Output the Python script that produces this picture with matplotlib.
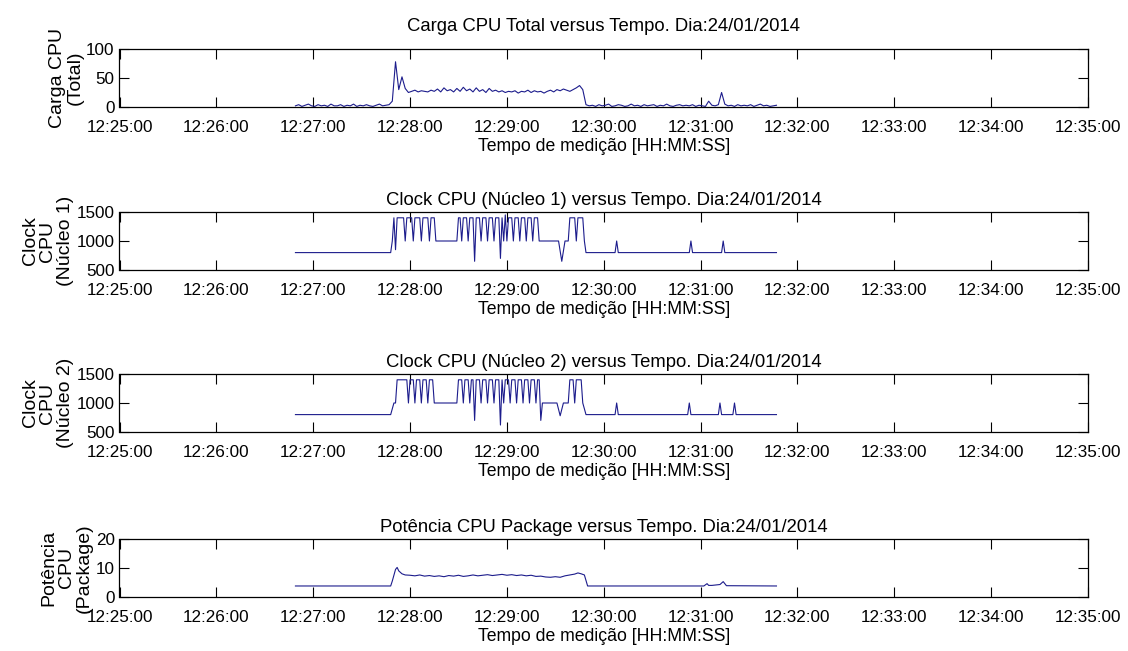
import numpy as np
import pandas as pd
import matplotlib
matplotlib.use("Agg")
import matplotlib.pyplot as plt
import matplotlib.dates as mdates

# ---------------- data (seconds after 12:25:00 on 24/01/2014) ----------------
DAY = "2014-01-24 12:25:00"

# CPU load (total) sampled every 2 s from 12:26:49 to 12:31:47
load_t = np.arange(109, 408, 2)
load_v = [2, 4, 1, 3, 5, 2, 1, 4, 2, 3, 1, 5, 2, 2, 4, 1, 3, 2, 5, 1,
          3, 2, 4, 2, 1, 3, 5, 2, 3, 4,
          10, 78, 30, 52, 32, 25,
          27, 29, 26, 28, 27, 26, 29, 27, 31, 26,
          33, 28, 30, 26, 32, 27, 34, 28, 31, 26,
          33, 27, 30, 25, 32, 27, 29, 26, 28, 25,
          27, 26, 28, 24, 27, 26, 29, 25, 28, 26,
          27, 24, 27, 29, 26, 30, 28, 31, 29, 27,
          30, 33,
          37, 30, 4,
          2, 3, 1, 4, 2, 3, 5, 1, 2, 4,
          3, 1, 2, 5, 2, 3, 1, 4, 2, 3,
          4, 1, 3, 2, 5, 2, 1, 3, 4, 2,
          3, 2, 4, 1, 3, 2, 1, 10, 3, 2,
          4, 25, 5, 2, 3, 1, 4, 2, 3, 2,
          4, 1, 3, 5, 2, 3, 1, 2, 3]

# CPU clock, core 1 (breakpoints)
core1_t = [109, 168, 169, 170, 171, 172, 176, 177, 178, 181, 182, 183, 186, 187, 188,
           191, 192, 193, 195, 196, 209, 210, 211, 212, 213, 215, 216, 217, 219, 220,
           221, 223, 224, 225, 227, 228, 229, 231, 232, 233, 235, 236, 237, 238, 239,
           240, 241, 243, 244, 245, 247, 248, 249, 251, 252, 253, 255, 256, 257, 259,
           260, 272, 274, 276, 278, 279, 282, 283, 284, 287, 288, 289, 307, 308, 309,
           353, 354, 355, 373, 374, 375, 407]
core1_v = [800, 800, 1000, 1400, 850, 1400, 1400, 1000, 1400, 1400, 1000, 1400, 1400, 1000, 1400,
           1400, 1000, 1400, 1400, 1000, 1000, 1400, 1400, 1000, 1400, 1400, 1000, 1400, 1400, 650,
           1400, 1400, 1000, 1400, 1400, 1000, 1400, 1400, 1000, 1400, 1400, 700, 1400, 1000, 1450,
           1000, 1400, 1400, 1000, 1400, 1400, 1000, 1400, 1400, 1000, 1400, 1400, 1000, 1400, 1400,
           1000, 1000, 650, 1000, 1000, 1400, 1400, 1000, 1400, 1400, 1000, 800, 800, 1000, 800,
           800, 1000, 800, 800, 1000, 800, 800]

# CPU clock, core 2 (breakpoints)
core2_t = [109, 168, 170, 171, 172, 178, 179, 180, 182, 183, 184, 186, 187, 188, 190,
           191, 192, 194, 195, 209, 210, 212, 213, 214, 216, 217, 218, 219, 220, 221,
           223, 224, 225, 227, 228, 229, 231, 232, 233, 235, 236, 237, 238, 239, 241,
           242, 243, 245, 246, 247, 249, 250, 251, 253, 254, 255, 257, 258, 259, 260,
           261, 262, 271, 273, 275, 278, 279, 281, 282, 283, 286, 287, 289, 307, 308,
           309, 352, 353, 354, 371, 372, 373, 380, 381, 382, 407]
core2_v = [800, 800, 1000, 1000, 1400, 1400, 1000, 1400, 1400, 1000, 1400, 1400, 1000, 1400, 1400,
           1000, 1400, 1400, 1000, 1000, 1400, 1400, 1000, 1400, 1400, 1000, 1400, 1400, 700, 1400,
           1400, 1000, 1400, 1400, 1000, 1400, 1400, 1000, 1400, 1400, 620, 1400, 1000, 1400, 1400,
           1000, 1400, 1400, 1000, 1400, 1400, 1000, 1400, 1400, 1000, 1400, 1400, 1000, 1400, 1400,
           700, 1000, 1000, 780, 1000, 1000, 1400, 1400, 1000, 1400, 1400, 1000, 800, 800, 1000,
           800, 800, 1000, 800, 800, 1000, 800, 800, 1000, 800, 800]

# CPU package power
power_plateau_t = np.arange(180, 283, 3)
power_plateau_v = [7.5, 7.3, 7.6, 7.2, 7.4, 7.1, 7.3, 7.0, 7.4, 7.2,
                   7.5, 7.1, 7.3, 7.6, 7.3, 7.5, 7.7, 7.4, 7.6, 7.8,
                   7.5, 7.7, 7.4, 7.6, 7.3, 7.5, 7.1, 7.2, 6.9, 6.8,
                   7.0, 6.8, 7.3, 7.6, 7.9]
power_start_t = [109, 168, 169, 171, 172, 173, 175, 177]
power_start_v = [3.8, 3.8, 5.5, 9.5, 10.2, 9.0, 8.0, 7.6]
power_end_t = [284, 286, 288, 290, 362, 364, 365, 367, 372, 374, 376, 407]
power_end_v = [8.3, 8.0, 7.6, 3.8, 3.8, 4.6, 4.0, 4.0, 4.3, 5.3, 3.9, 3.8]

titles = ["Carga CPU Total versus Tempo. Dia:24/01/2014",
          "Clock CPU (Núcleo 1) versus Tempo. Dia:24/01/2014",
          "Clock CPU (Núcleo 2) versus Tempo. Dia:24/01/2014",
          "Potência CPU Package versus Tempo. Dia:24/01/2014"]
ylabels = ["Carga CPU\n(Total)", "Clock\nCPU\n(Núcleo 1)",
           "Clock\nCPU\n(Núcleo 2)", "Potência\nCPU\n(Package)"]
yticks = [[0, 50, 100], [500, 1000, 1500], [500, 1000, 1500], [0, 10, 20]]
xlabel = "Tempo de medição [HH:MM:SS]"

# ---------------- plotting ----------------
base = pd.Timestamp(DAY)


def to_time(sec):
    return base + pd.to_timedelta(np.asarray(sec, dtype=float), unit="s")


power_t = np.concatenate([power_start_t, power_plateau_t, power_end_t])
power_v = np.concatenate([power_start_v, power_plateau_v, power_end_v])

series = [(load_t, load_v), (core1_t, core1_v), (core2_t, core2_v), (power_t, power_v)]

font = ["Liberation Sans", "DejaVu Sans"]
plt.rcParams["font.family"] = font

fig = plt.figure(figsize=(11.28, 6.51), dpi=100)
W, H = 1128.0, 651.0
left, right = 119.5, 1088.0
bottoms = [107, 270, 432, 597]
ax_h = 58
title_pads = [13, 5, 5, 5]

xmin = base
xmax = base + pd.Timedelta(minutes=10)
ticks = [base + pd.Timedelta(minutes=m) for m in range(11)]

line_color = "#1c1c8c"

for i, (t, v) in enumerate(series):
    ax = fig.add_axes([left / W, 1 - bottoms[i] / H, (right - left) / W, ax_h / H])
    ax.plot(to_time(t), v, color=line_color, lw=0.8)
    ax.set_xlim(xmin, xmax)
    ax.set_ylim(yticks[i][0], yticks[i][-1])
    ax.set_yticks(yticks[i])
    ax.set_xticks(ticks)
    ax.xaxis.set_major_formatter(mdates.DateFormatter("%H:%M:%S"))
    ax.tick_params(direction="in", length=7, width=0.8, top=True, right=True,
                   labelsize=12.3, colors="black")
    ax.tick_params(axis="x", pad=9.5)
    ax.tick_params(axis="y", pad=3.5)
    for s in ax.spines.values():
        s.set_linewidth(0.9)
    ax.set_title(titles[i], fontsize=13.3, pad=title_pads[i])
    ax.set_xlabel(xlabel, fontsize=12.7, labelpad=2)
    ax.set_ylabel(ylabels[i], fontsize=14, labelpad=2, linespacing=1.05)

fig.savefig("out.png", dpi=100, facecolor="white")
